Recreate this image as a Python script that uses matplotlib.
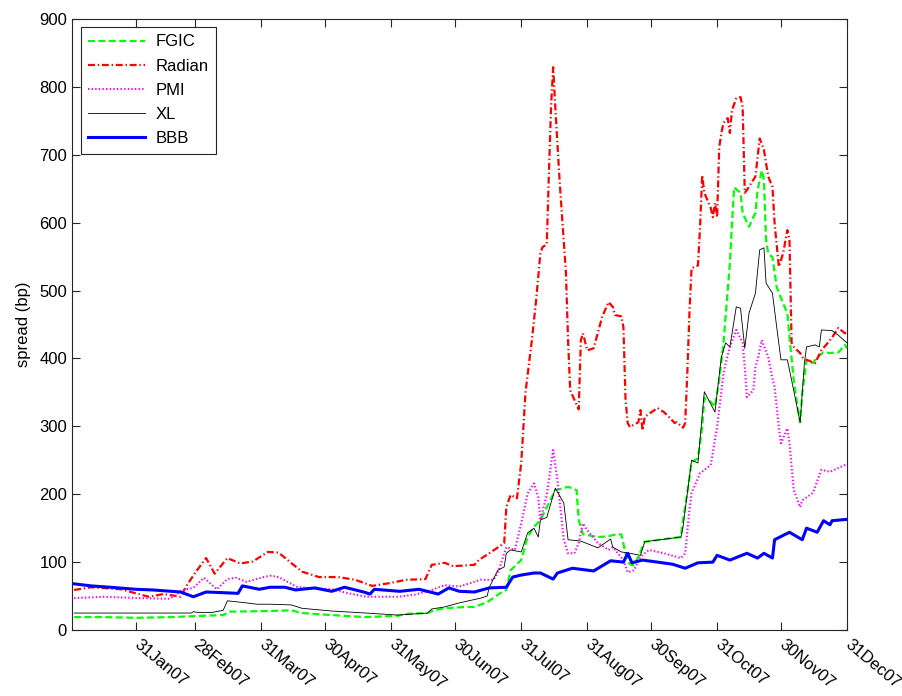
import numpy as np
import matplotlib
matplotlib.use('Agg')
import matplotlib.pyplot as plt
import matplotlib.dates as mdates

plt.rcParams['font.family'] = ['Liberation Sans', 'DejaVu Sans']
plt.rcParams['lines.scale_dashes'] = False

# spreads in bp
fgic_dates = ['2007-01-02', '2007-01-16', '2007-02-01', '2007-02-16', '2007-03-04', '2007-03-13',
              '2007-03-16', '2007-04-04', '2007-04-14', '2007-04-19', '2007-05-03', '2007-05-19',
              '2007-06-03', '2007-06-08', '2007-06-17', '2007-06-20', '2007-06-25', '2007-07-05',
              '2007-07-09', '2007-07-15', '2007-07-21', '2007-07-24', '2007-07-26', '2007-07-31',
              '2007-08-03', '2007-08-06', '2007-08-09', '2007-08-12', '2007-08-16', '2007-08-20',
              '2007-08-22', '2007-08-26', '2007-08-27', '2007-08-29', '2007-09-05', '2007-09-10',
              '2007-09-12', '2007-09-16', '2007-09-18', '2007-09-20', '2007-09-22', '2007-09-24',
              '2007-09-27', '2007-10-04', '2007-10-14', '2007-10-15', '2007-10-17', '2007-10-19',
              '2007-10-22', '2007-10-24', '2007-10-25', '2007-10-28', '2007-10-30', '2007-11-01',
              '2007-11-03', '2007-11-06', '2007-11-07', '2007-11-08', '2007-11-11', '2007-11-12',
              '2007-11-15', '2007-11-17', '2007-11-18', '2007-11-19', '2007-11-21', '2007-11-22',
              '2007-11-23', '2007-11-24', '2007-11-26', '2007-11-28', '2007-12-01', '2007-12-03',
              '2007-12-04', '2007-12-06', '2007-12-08', '2007-12-09', '2007-12-10', '2007-12-12',
              '2007-12-15', '2007-12-17', '2007-12-20', '2007-12-23', '2007-12-27', '2007-12-30',
              '2007-12-31']
fgic = [19, 19, 18, 19, 21, 22,
        27, 28, 29, 25, 22, 19,
        21, 24, 25, 29, 32, 34,
        34, 41, 54, 59, 88, 103,
        137, 152, 162, 181, 206, 209,
        211, 206, 162, 141, 137, 138,
        140, 141, 113, 97, 95, 108,
        130, 133, 137, 162, 202, 247,
        253, 299, 342, 336, 329, 368,
        423, 540, 599, 652, 644, 614,
        594, 608, 614, 648, 677, 663,
        574, 555, 549, 505, 481, 467,
        431, 368, 324, 306, 349, 398,
        393, 402, 409, 408, 409, 420,
        415]

radian_dates = ['2007-01-02', '2007-01-10', '2007-01-24', '2007-02-06', '2007-02-13', '2007-02-21',
                '2007-02-24', '2007-02-28', '2007-03-05', '2007-03-09', '2007-03-15', '2007-03-21',
                '2007-03-27', '2007-04-03', '2007-04-08', '2007-04-19', '2007-04-27', '2007-05-06',
                '2007-05-14', '2007-05-22', '2007-05-30', '2007-06-07', '2007-06-16', '2007-06-19',
                '2007-06-25', '2007-06-29', '2007-07-09', '2007-07-11', '2007-07-16', '2007-07-23',
                '2007-07-24', '2007-07-26', '2007-07-29', '2007-07-31', '2007-08-02', '2007-08-05',
                '2007-08-07', '2007-08-09', '2007-08-10', '2007-08-12', '2007-08-13', '2007-08-14',
                '2007-08-15', '2007-08-16', '2007-08-18', '2007-08-21', '2007-08-22', '2007-08-23',
                '2007-08-27', '2007-08-28', '2007-08-29', '2007-08-31', '2007-09-03', '2007-09-07',
                '2007-09-10', '2007-09-12', '2007-09-13', '2007-09-16', '2007-09-17', '2007-09-18',
                '2007-09-19', '2007-09-20', '2007-09-24', '2007-09-25', '2007-09-26', '2007-09-27',
                '2007-10-03', '2007-10-06', '2007-10-09', '2007-10-11', '2007-10-12', '2007-10-15',
                '2007-10-16', '2007-10-17', '2007-10-18', '2007-10-19', '2007-10-22', '2007-10-23',
                '2007-10-24', '2007-10-25', '2007-10-28', '2007-10-29', '2007-10-30', '2007-10-31',
                '2007-11-01', '2007-11-02', '2007-11-03', '2007-11-05', '2007-11-06', '2007-11-07',
                '2007-11-09', '2007-11-11', '2007-11-12', '2007-11-13', '2007-11-14', '2007-11-18',
                '2007-11-20', '2007-11-22', '2007-11-24', '2007-11-26', '2007-11-27', '2007-11-29',
                '2007-12-01', '2007-12-03', '2007-12-04', '2007-12-05', '2007-12-06', '2007-12-09',
                '2007-12-10', '2007-12-12', '2007-12-16', '2007-12-19', '2007-12-22', '2007-12-24',
                '2007-12-27', '2007-12-30', '2007-12-31']
radian = [59, 63, 60, 49, 53, 49,
          66, 85, 106, 83, 106, 98,
          101, 115, 114, 86, 78, 78,
          74, 65, 69, 74, 75, 96,
          99, 94, 96, 103, 113, 128,
          181, 199, 194, 246, 350, 427,
          486, 555, 564, 568, 673, 770,
          829, 770, 663, 526, 427, 353,
          325, 427, 437, 412, 415, 461,
          483, 476, 464, 462, 446, 339,
          305, 299, 306, 324, 294, 314,
          327, 321, 312, 305, 306, 298,
          305, 378, 467, 533, 537, 594,
          670, 644, 622, 608, 629, 608,
          711, 732, 747, 754, 732, 766,
          783, 785, 770, 644, 648, 668,
          724, 707, 668, 653, 599, 535,
          555, 589, 574, 423, 417, 408,
          402, 398, 393, 412, 423, 431,
          445, 437, 440]

pmi_dates = ['2007-01-02', '2007-01-16', '2007-02-01', '2007-02-16', '2007-02-22', '2007-02-27',
             '2007-03-04', '2007-03-10', '2007-03-15', '2007-03-19', '2007-03-24', '2007-04-01',
             '2007-04-04', '2007-04-08', '2007-04-17', '2007-05-03', '2007-05-11', '2007-05-19',
             '2007-05-27', '2007-06-03', '2007-06-11', '2007-06-19', '2007-06-25', '2007-07-02',
             '2007-07-12', '2007-07-18', '2007-07-20', '2007-07-24', '2007-07-28', '2007-07-31',
             '2007-08-03', '2007-08-06', '2007-08-08', '2007-08-09', '2007-08-12', '2007-08-15',
             '2007-08-17', '2007-08-20', '2007-08-22', '2007-08-25', '2007-08-27', '2007-08-29',
             '2007-08-31', '2007-09-05', '2007-09-10', '2007-09-12', '2007-09-17', '2007-09-19',
             '2007-09-22', '2007-09-25', '2007-09-29', '2007-10-06', '2007-10-14', '2007-10-16',
             '2007-10-18', '2007-10-19', '2007-10-23', '2007-10-28', '2007-10-31', '2007-11-03',
             '2007-11-04', '2007-11-06', '2007-11-09', '2007-11-12', '2007-11-13', '2007-11-14',
             '2007-11-17', '2007-11-18', '2007-11-19', '2007-11-21', '2007-11-24', '2007-11-26',
             '2007-11-27', '2007-11-29', '2007-11-30', '2007-12-03', '2007-12-04', '2007-12-06',
             '2007-12-09', '2007-12-10', '2007-12-15', '2007-12-19', '2007-12-23', '2007-12-30',
             '2007-12-31']
pmi = [47, 49, 47, 46, 59, 62,
       77, 60, 75, 77, 71, 78,
       80, 78, 63, 60, 54, 49,
       49, 49, 52, 59, 66, 64,
       74, 74, 84, 122, 118, 157,
       201, 216, 196, 162, 199, 265,
       221, 133, 113, 113, 128, 157,
       147, 128, 118, 122, 103, 85,
       88, 108, 118, 113, 106, 113,
       177, 202, 231, 243, 299, 378,
       393, 417, 442, 423, 387, 343,
       353, 387, 398, 427, 402, 370,
       358, 299, 275, 297, 275, 206,
       181, 191, 202, 236, 233, 243,
       245]

xl_dates = ['2007-01-02', '2007-02-01', '2007-02-26', '2007-02-27', '2007-03-01', '2007-03-08',
            '2007-03-13', '2007-03-15', '2007-03-21', '2007-03-29', '2007-04-04', '2007-04-14',
            '2007-04-19', '2007-05-03', '2007-05-19', '2007-06-03', '2007-06-17', '2007-06-19',
            '2007-06-25', '2007-07-02', '2007-07-12', '2007-07-15', '2007-07-16', '2007-07-20',
            '2007-07-23', '2007-07-24', '2007-07-26', '2007-07-31', '2007-08-03', '2007-08-06',
            '2007-08-08', '2007-08-09', '2007-08-12', '2007-08-16', '2007-08-20', '2007-08-22',
            '2007-08-28', '2007-09-05', '2007-09-11', '2007-09-12', '2007-09-16', '2007-09-20',
            '2007-09-25', '2007-09-27', '2007-10-14', '2007-10-15', '2007-10-19', '2007-10-22',
            '2007-10-25', '2007-10-30', '2007-10-31', '2007-11-02', '2007-11-04', '2007-11-06',
            '2007-11-09', '2007-11-11', '2007-11-13', '2007-11-15', '2007-11-18', '2007-11-20',
            '2007-11-22', '2007-11-23', '2007-11-26', '2007-11-28', '2007-11-30', '2007-12-03',
            '2007-12-05', '2007-12-09', '2007-12-11', '2007-12-12', '2007-12-16', '2007-12-18',
            '2007-12-19', '2007-12-24', '2007-12-27', '2007-12-31']
xl = [25, 25, 25, 27, 26, 26,
      29, 43, 41, 38, 38, 37,
      32, 28, 25, 22, 25, 31,
      34, 40, 47, 50, 63, 88,
      93, 113, 118, 115, 143, 150,
      137, 162, 166, 209, 187, 133,
      131, 121, 134, 122, 115, 113,
      110, 130, 137, 152, 250, 246,
      351, 321, 349, 402, 423, 417,
      476, 474, 415, 467, 496, 560,
      563, 511, 496, 446, 398, 398,
      368, 306, 393, 417, 420, 417,
      442, 441, 434, 423]

bbb_dates = ['2007-01-02', '2007-01-10', '2007-01-19', '2007-01-31', '2007-02-08', '2007-02-21',
             '2007-02-27', '2007-03-05', '2007-03-13', '2007-03-20', '2007-03-22', '2007-03-30',
             '2007-04-04', '2007-04-11', '2007-04-16', '2007-04-25', '2007-05-03', '2007-05-09',
             '2007-05-18', '2007-05-21', '2007-05-23', '2007-06-04', '2007-06-13', '2007-06-22',
             '2007-06-27', '2007-07-02', '2007-07-09', '2007-07-16', '2007-07-24', '2007-07-27',
             '2007-07-31', '2007-08-06', '2007-08-09', '2007-08-15', '2007-08-17', '2007-08-24',
             '2007-09-03', '2007-09-11', '2007-09-17', '2007-09-19', '2007-09-21', '2007-09-26',
             '2007-10-03', '2007-10-10', '2007-10-16', '2007-10-22', '2007-10-29', '2007-10-31',
             '2007-11-06', '2007-11-14', '2007-11-19', '2007-11-22', '2007-11-26', '2007-11-27',
             '2007-12-04', '2007-12-10', '2007-12-12', '2007-12-17', '2007-12-20', '2007-12-23',
             '2007-12-24', '2007-12-31']
bbb = [68, 65, 63, 60, 59, 56,
       49, 56, 55, 54, 65, 60,
       63, 63, 59, 62, 57, 63,
       56, 53, 60, 57, 60, 53,
       62, 57, 56, 62, 63, 78,
       81, 84, 84, 75, 84, 91,
       87, 102, 100, 113, 99, 103,
       100, 97, 91, 99, 100, 110,
       103, 113, 106, 113, 106, 133,
       144, 133, 150, 144, 161, 155,
       161, 163]

tick_dates = ['2007-01-31', '2007-02-28', '2007-03-31', '2007-04-30', '2007-05-31', '2007-06-30',
              '2007-07-31', '2007-08-31', '2007-09-30', '2007-10-31', '2007-11-30', '2007-12-31']

def d(lst):
    return np.array(lst, dtype='datetime64[D]')

fig = plt.figure(figsize=(9.02, 6.96), dpi=100)
ax = fig.add_axes([0.0798, 0.0948, 0.8592, 0.8779])

ax.plot(d(fgic_dates), fgic, color=(0, 1, 0), lw=1.6, dashes=(5, 2.5), label='FGIC')
ax.plot(d(radian_dates), radian, color=(1, 0, 0), lw=1.6, dashes=(5, 2, 1, 2), label='Radian')
ax.plot(d(pmi_dates), pmi, color=(1, 0, 1), lw=1.5, dashes=(1, 1.6), label='PMI')
ax.plot(d(xl_dates), xl, color='k', lw=0.6, label='XL')
ax.plot(d(bbb_dates), bbb, color=(0, 0, 1), lw=2.2, label='BBB')

ax.set_xlim(np.datetime64('2007-01-01'), np.datetime64('2007-12-31'))
ax.set_ylim(0, 900)
ax.set_yticks(range(0, 901, 100))
ax.set_xticks(d(tick_dates))
ax.xaxis.set_major_formatter(mdates.DateFormatter('%d%b%y'))
ax.tick_params(direction='in', top=True, right=True, length=5.5, width=0.8,
               labelsize=12, color='#262626')
for lab in ax.get_xticklabels():
    lab.set_rotation(-40)
    lab.set_rotation_mode('anchor')
    lab.set_ha('left')
    lab.set_va('center')
ax.tick_params(axis='x', pad=9)
for sp in ax.spines.values():
    sp.set_color('#262626')
    sp.set_linewidth(0.8)

ax.set_ylabel('spread (bp)', fontsize=12, labelpad=6)

leg = ax.legend(loc='upper left', bbox_to_anchor=(0.0116, 0.987), borderaxespad=0,
                fontsize=12, handlelength=3.4, labelspacing=0.55, fancybox=False,
                framealpha=1, edgecolor='#262626', borderpad=0.45, handletextpad=0.6)
leg.get_frame().set_linewidth(0.8)

fig.savefig('out.png', dpi=100)
